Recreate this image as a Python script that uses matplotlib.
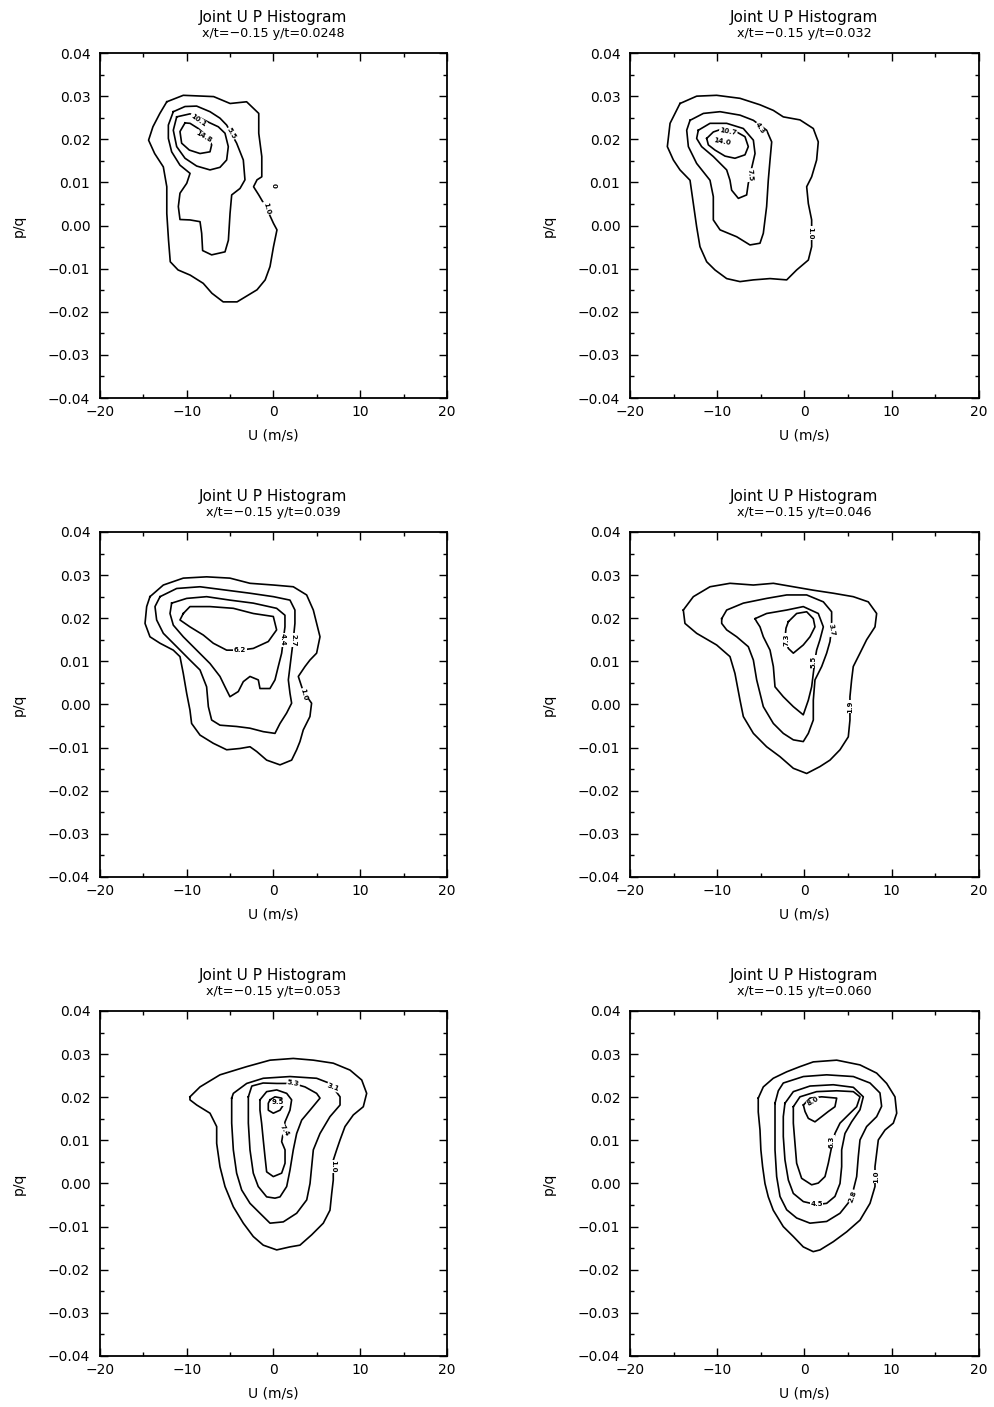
import matplotlib
matplotlib.use('Agg')
from matplotlib import pyplot as plt
from matplotlib.ticker import MultipleLocator, FuncFormatter

# Contour outlines of the joint U / p histograms, points are (U [m/s], p/q)

# x/t=-0.15 y/t=0.0248
yt0248_levels = ['1.0', '5.5', '10.1', '14.8']
yt0248_c1 = [(-12.3, 0.0287), (-10.4, 0.0302), (-6.9, 0.0299), (-5.0, 0.0283), (-3.1, 0.0287),
             (-1.7, 0.0260), (-1.7, 0.0214), (-1.35, 0.0160), (-1.35, 0.0113), (-1.9, 0.0106),
             (-2.3, 0.0090), (-1.7, 0.0071), (-0.8, 0.0040), (0.0, 0.0005), (0.4, -0.0010),
             (0.0, -0.0049), (-0.4, -0.0095), (-0.96, -0.0126), (-1.9, -0.0149), (-4.2, -0.0177),
             (-5.8, -0.0177), (-7.1, -0.0157), (-8.1, -0.0134), (-9.6, -0.0115), (-11.0, -0.0103),
             (-11.9, -0.0084), (-12.1, -0.0034), (-12.3, 0.0028), (-12.3, 0.0090), (-12.7, 0.0136),
             (-13.7, 0.0167), (-14.4, 0.0198), (-13.9, 0.0229), (-13.1, 0.0260)]
yt0248_c2 = [(-11.55, 0.0264), (-10.2, 0.0276), (-8.86, 0.0277), (-7.32, 0.0264), (-6.17, 0.0249),
             (-5.4, 0.0233), (-4.25, 0.0191), (-3.48, 0.0152), (-3.29, 0.0106), (-3.86, 0.0086),
             (-4.82, 0.0071), (-5.01, 0.0028), (-5.2, -0.0034), (-5.59, -0.0061), (-7.13, -0.0068),
             (-8.17, -0.0058), (-8.28, -0.0018), (-8.47, 0.0009), (-9.62, 0.0013), (-10.78, 0.0014),
             (-10.97, 0.0044), (-10.78, 0.0075), (-10.0, 0.0098), (-9.62, 0.0121), (-10.78, 0.0140),
             (-11.74, 0.0171), (-12.12, 0.0202), (-12.12, 0.0233)]
yt0248_c3 = [(-11.16, 0.0252), (-11.55, 0.0221), (-11.16, 0.0183), (-10.2, 0.0156), (-8.86, 0.0138),
             (-7.32, 0.0129), (-6.17, 0.0135), (-5.4, 0.0152), (-5.21, 0.0183), (-5.59, 0.0214),
             (-6.36, 0.0229), (-7.32, 0.0238), (-8.5, 0.0250), (-9.62, 0.0259)]
yt0248_c4 = [(-10.2, 0.0238), (-10.78, 0.0218), (-10.59, 0.0191), (-9.7, 0.0175), (-8.47, 0.0167),
             (-7.32, 0.0171), (-7.13, 0.0187), (-7.51, 0.0205), (-8.67, 0.0225), (-9.62, 0.0237)]
yt0248_labels = ['10.1', '14.8', '5.5', '0', '1.0']
yt0248_label_at = [(-8.67, 0.0245), (-8.0, 0.0206), (-4.82, 0.0214), (0.06, 0.0094), (-0.79, 0.0040)]

# x/t=-0.15 y/t=0.032
yt032_levels = ['1.0', '4.3', '7.5', '10.7']
yt032_c1 = [(-14.27, 0.0283), (-12.36, 0.0300), (-10.07, 0.0302), (-7.39, 0.0295), (-5.10, 0.0280),
            (-3.57, 0.0267), (-2.43, 0.0252), (-0.52, 0.0245), (1.01, 0.0225), (1.58, 0.0194),
            (1.39, 0.0152), (0.82, 0.0113), (0.25, 0.0090), (0.44, 0.0051), (0.82, 0.0013),
            (0.82, -0.0049), (0.44, -0.0080), (-0.9, -0.0103), (-2.04, -0.0126), (-3.95, -0.0123),
            (-5.86, -0.0126), (-7.39, -0.0130), (-8.92, -0.0123), (-10.26, -0.0103), (-11.21, -0.0084),
            (-11.98, -0.0049), (-12.36, -0.0003), (-12.74, 0.0051), (-13.12, 0.0105), (-14.27, 0.0129),
            (-15.03, 0.0152), (-15.72, 0.0183), (-15.41, 0.0237)]
yt032_c2 = [(-13.12, 0.0244), (-11.59, 0.0260), (-9.68, 0.0264), (-7.39, 0.0256), (-5.86, 0.0244),
            (-4.34, 0.0221), (-3.76, 0.0194), (-3.95, 0.0152), (-4.15, 0.0105), (-4.34, 0.0044),
            (-4.72, -0.0018), (-5.10, -0.0041), (-6.25, -0.0045), (-7.77, -0.0026), (-9.68, -0.0010),
            (-10.45, 0.0013), (-10.45, 0.0067), (-10.83, 0.0105), (-12.36, 0.0144), (-13.31, 0.0183),
            (-13.50, 0.0221)]
yt032_c3 = [(-12.17, 0.0221), (-10.83, 0.0237), (-8.92, 0.0237), (-7.01, 0.0225), (-5.86, 0.0198),
            (-5.67, 0.0167), (-6.06, 0.0133), (-6.44, 0.0098), (-6.63, 0.0071), (-7.58, 0.0063),
            (-8.35, 0.0082), (-8.54, 0.0105), (-8.92, 0.0129), (-10.45, 0.0160), (-11.79, 0.0183),
            (-12.36, 0.0202)]
yt032_c4 = [(-11.21, 0.0202), (-10.45, 0.0217), (-9.30, 0.0225), (-7.77, 0.0217), (-6.82, 0.0206),
            (-6.44, 0.0183), (-6.82, 0.0164), (-7.97, 0.0156), (-9.11, 0.0161), (-10.26, 0.0175),
            (-11.02, 0.0187)]
yt032_labels = ['4.3', '10.7', '14.0', '7.5', '1.0']
yt032_label_at = [(-5.1, 0.0225), (-8.73, 0.0219), (-9.49, 0.0194), (-6.25, 0.0117), (0.7, -0.0018)]

# x/t=-0.15 y/t=0.039
yt039_levels = ['1.0', '2.7', '4.4', '6.2']
yt039_c1 = [(-14.24, 0.0250), (-12.70, 0.0277), (-10.40, 0.0293), (-7.71, 0.0296), (-5.02, 0.0293),
            (-2.71, 0.0281), (0.0, 0.0277), (2.28, 0.0273), (3.82, 0.0254), (4.59, 0.0219),
            (5.36, 0.0157), (4.97, 0.0119), (4.20, 0.0103), (3.63, 0.0088), (2.86, 0.0065),
            (3.43, 0.0030), (4.39, 0.0003), (4.20, -0.0028), (3.43, -0.0059), (3.05, -0.0086),
            (2.67, -0.0105), (2.09, -0.0129), (0.75, -0.0140), (-0.79, -0.0129), (-1.94, -0.0109),
            (-2.71, -0.0098), (-3.86, -0.0102), (-5.40, -0.0105), (-6.94, -0.0090), (-8.47, -0.0071),
            (-9.44, -0.0044), (-9.63, -0.0013), (-10.01, 0.0026), (-10.40, 0.0072), (-10.78, 0.0111),
            (-11.55, 0.0126), (-13.08, 0.0142), (-14.24, 0.0157), (-14.81, 0.0188), (-14.62, 0.0227)]
yt039_c2 = [(-13.08, 0.0250), (-11.16, 0.0269), (-8.47, 0.0273), (-5.40, 0.0265), (-2.71, 0.0258),
            (0.0, 0.0250), (1.90, 0.0242), (2.47, 0.0219), (2.47, 0.0188), (2.28, 0.0150),
            (2.09, 0.0119), (1.90, 0.0088), (1.71, 0.0057), (1.90, 0.0026), (2.09, 0.0003),
            (1.51, -0.0020), (0.75, -0.0044), (0.17, -0.0067), (-1.18, -0.0063), (-2.71, -0.0055),
            (-4.25, -0.0051), (-6.17, -0.0048), (-7.13, -0.0036), (-7.51, -0.0005), (-7.71, 0.0041),
            (-8.47, 0.0080), (-9.63, 0.0103), (-11.16, 0.0134), (-12.70, 0.0165), (-13.47, 0.0196),
            (-13.66, 0.0227)]
yt039_c3 = [(-11.74, 0.0235), (-10.01, 0.0246), (-7.71, 0.0250), (-5.02, 0.0242), (-2.33, 0.0235),
            (0.36, 0.0223), (1.32, 0.0207), (1.32, 0.0180), (1.13, 0.0150), (0.94, 0.0119),
            (0.55, 0.0088), (0.17, 0.0057), (-0.41, 0.0037), (-1.56, 0.0037), (-1.75, 0.0057),
            (-2.71, 0.0065), (-3.48, 0.0053), (-4.06, 0.0030), (-5.02, 0.0018), (-5.59, 0.0041),
            (-6.17, 0.0065), (-7.32, 0.0095), (-8.86, 0.0126), (-10.40, 0.0157), (-11.55, 0.0184),
            (-11.93, 0.0211)]
yt039_c4 = [(-10.40, 0.0211), (-9.63, 0.0227), (-7.32, 0.0227), (-4.63, 0.0223), (-2.33, 0.0211),
            (-0.02, 0.0204), (0.36, 0.0173), (-0.60, 0.0146), (-2.33, 0.0130), (-3.86, 0.0126),
            (-5.40, 0.0126), (-6.94, 0.0142), (-8.09, 0.0161), (-9.63, 0.0180), (-10.78, 0.0196)]
yt039_labels = ['6.2', '4.4', '2.7', '1.0']
yt039_label_at = [(-3.86, 0.0126), (1.05, 0.0150), (2.28, 0.0150), (3.43, 0.0022)]

# x/t=-0.15 y/t=0.046
yt046_levels = ['1.9', '3.7', '5.5', '7.3']
yt046_c1 = [(-13.89, 0.0219), (-12.74, 0.0250), (-10.83, 0.0273), (-8.54, 0.0281), (-5.86, 0.0277),
            (-3.57, 0.0281), (-1.28, 0.0273), (1.01, 0.0265), (3.30, 0.0258), (5.59, 0.0250),
            (7.31, 0.0238), (8.27, 0.0211), (8.08, 0.0180), (7.12, 0.0150), (6.36, 0.0119),
            (5.59, 0.0088), (5.40, 0.0057), (5.21, 0.0018), (5.21, -0.0036), (5.02, -0.0075),
            (4.07, -0.0105), (2.92, -0.0129), (1.77, -0.0144), (0.25, -0.0160), (-1.28, -0.0148),
            (-2.81, -0.0121), (-4.34, -0.0098), (-5.86, -0.0067), (-7.01, -0.0028), (-7.39, 0.0010),
            (-7.97, 0.0072), (-8.54, 0.0111), (-10.07, 0.0138), (-12.36, 0.0165), (-13.70, 0.0188)]
yt046_c2 = [(-9.49, 0.0199), (-8.92, 0.0219), (-7.01, 0.0235), (-4.34, 0.0246), (-2.04, 0.0254),
            (0.25, 0.0254), (2.16, 0.0238), (3.11, 0.0215), (3.11, 0.0180), (2.92, 0.0146),
            (2.54, 0.0119), (1.97, 0.0088), (1.20, 0.0057), (1.01, 0.0010), (1.01, -0.0036),
            (0.44, -0.0067), (-0.14, -0.0086), (-1.28, -0.0082), (-2.43, -0.0067), (-3.57, -0.0044),
            (-4.72, -0.0005), (-5.10, 0.0026), (-5.48, 0.0057), (-5.86, 0.0103), (-6.44, 0.0134),
            (-7.77, 0.0157), (-8.92, 0.0173), (-9.49, 0.0188)]
yt046_c3 = [(-5.67, 0.0199), (-4.34, 0.0211), (-2.04, 0.0219), (-0.14, 0.0227), (1.58, 0.0211),
            (2.16, 0.0180), (1.77, 0.0150), (1.39, 0.0126), (1.20, 0.0103), (1.01, 0.0072),
            (0.82, 0.0041), (0.44, 0.0010), (-0.14, -0.0024), (-1.28, -0.0005), (-2.43, 0.0018),
            (-3.38, 0.0041), (-3.57, 0.0088), (-3.95, 0.0126), (-4.72, 0.0157), (-5.10, 0.0180),
            (-5.48, 0.0192)]
yt046_c4 = [(-1.85, 0.0192), (-0.90, 0.0211), (0.25, 0.0215), (1.01, 0.0199), (1.20, 0.0180),
            (0.63, 0.0157), (-0.14, 0.0138), (-1.28, 0.0119), (-1.85, 0.0130), (-2.23, 0.0154),
            (-2.12, 0.0177)]
yt046_labels = ['7.3', '3.7', '5.5', '1.9']
yt046_label_at = [(-2.12, 0.0150), (3.11, 0.0173), (1.05, 0.0099), (5.21, -0.0005)]

# x/t=-0.15 y/t=0.053
yt053_levels = ['1.0', '3.1', '5.3', '7.4', '9.5']
yt053_c1 = [(-9.63, 0.0201), (-8.47, 0.0224), (-6.17, 0.0252), (-3.09, 0.0271), (-0.40, 0.0286),
            (2.28, 0.0290), (4.59, 0.0286), (6.89, 0.0279), (8.82, 0.0263), (10.17, 0.0240),
            (10.74, 0.0209), (10.35, 0.0178), (9.20, 0.0159), (8.24, 0.0132), (7.67, 0.0101),
            (7.28, 0.0078), (6.89, 0.0054), (6.89, 0.0008), (6.71, -0.0023), (6.51, -0.0062),
            (5.74, -0.0092), (4.40, -0.0119), (3.05, -0.0143), (1.90, -0.0147), (0.37, -0.0154),
            (-1.18, -0.0143), (-2.33, -0.0123), (-3.48, -0.0092), (-4.63, -0.0054), (-5.59, -0.0007),
            (-6.17, 0.0039), (-6.55, 0.0093), (-6.55, 0.0132), (-7.32, 0.0163), (-8.85, 0.0182),
            (-9.63, 0.0194)]
yt053_c2 = [(-4.82, 0.0198), (-4.63, 0.0209), (-3.09, 0.0232), (-1.18, 0.0244), (1.90, 0.0248),
            (4.97, 0.0244), (6.51, 0.0232), (7.67, 0.0201), (7.67, 0.0182), (6.51, 0.0155),
            (5.36, 0.0116), (4.59, 0.0078), (4.40, 0.0039), (4.21, 0.0000), (3.83, -0.0038),
            (2.67, -0.0069), (1.13, -0.0089), (-0.40, -0.0092), (-1.56, -0.0069), (-2.71, -0.0046),
            (-3.67, -0.0015), (-4.25, 0.0024), (-4.63, 0.0078), (-4.82, 0.0140)]
yt053_c3 = [(-2.90, 0.0201), (-2.5, 0.0226), (-1.2, 0.0233), (0.37, 0.0232), (2.28, 0.0232),
            (3.63, 0.0224), (4.97, 0.0209), (5.36, 0.0198), (4.21, 0.0170), (3.25, 0.0147),
            (2.67, 0.0116), (2.28, 0.0078), (1.90, 0.0031), (1.52, -0.0007), (0.75, -0.0031),
            (0.17, -0.0034), (-0.79, -0.0031), (-1.76, -0.0007), (-2.33, 0.0024), (-2.71, 0.0078),
            (-2.90, 0.0140)]
yt053_c4 = [(-1.56, 0.0194), (-0.79, 0.0213), (0.37, 0.0217), (1.52, 0.0209), (2.09, 0.0194),
            (1.90, 0.0170), (1.33, 0.0143), (0.94, 0.0097), (1.33, 0.0078), (1.33, 0.0047),
            (0.94, 0.0024), (-0.02, 0.0016), (-0.79, 0.0027), (-0.98, 0.0062), (-1.18, 0.0101),
            (-1.37, 0.0140), (-1.56, 0.0170)]
yt053_c5 = [(-0.40, 0.0194), (0.17, 0.0201), (0.94, 0.0198), (1.13, 0.0182), (0.75, 0.0170),
            (-0.02, 0.0163), (-0.60, 0.0170), (-0.60, 0.0186)]
yt053_labels = ['9.5', '7.4', '5.3', '3.1', '1.0']
yt053_label_at = [(0.55, 0.0188), (1.2, 0.0124), (2.28, 0.0232), (6.89, 0.0223), (6.89, 0.0039)]

# x/t=-0.15 y/t=0.060
yt060_levels = ['1.0', '2.8', '4.5', '6.3', '8.0']
yt060_c1 = [(-5.3, 0.0198), (-4.72, 0.0224), (-3.58, 0.0244), (-2.04, 0.0259), (-0.52, 0.0271),
            (1.01, 0.0282), (3.69, 0.0286), (6.36, 0.0275), (8.27, 0.0256), (9.42, 0.0232),
            (10.37, 0.0201), (10.57, 0.0163), (10.18, 0.0140), (9.23, 0.0124), (8.46, 0.0101),
            (8.27, 0.0070), (8.08, 0.0039), (8.08, -0.0007), (7.51, -0.0046), (6.36, -0.0085),
            (4.84, -0.0112), (3.30, -0.0135), (1.78, -0.0154), (1.0, -0.0158), (-0.14, -0.0147),
            (-1.28, -0.0123), (-2.43, -0.0100), (-3.58, -0.0062), (-4.15, -0.0031), (-4.53, 0.0000),
            (-4.8, 0.0039), (-5.0, 0.0078), (-5.1, 0.0124), (-5.3, 0.0166)]
yt060_c2 = [(-3.38, 0.0186), (-3.0, 0.0215), (-2.43, 0.0233), (-0.13, 0.0248), (2.54, 0.0252),
            (5.60, 0.0248), (7.51, 0.0233), (8.65, 0.0210), (8.84, 0.0179), (8.27, 0.0155),
            (7.12, 0.0132), (6.36, 0.0101), (6.17, 0.0063), (5.98, 0.0016), (5.60, -0.0015),
            (5.02, -0.0045), (4.07, -0.0069), (2.54, -0.0088), (0.63, -0.0092), (-0.90, -0.0080),
            (-2.04, -0.0061), (-2.81, -0.0030), (-3.19, 0.0016), (-3.38, 0.0078), (-3.38, 0.0140)]
yt060_c3 = [(-2.24, 0.0186), (-1.28, 0.0213), (0.63, 0.0226), (3.30, 0.0229), (5.60, 0.0223),
            (6.74, 0.0201), (6.36, 0.0171), (5.40, 0.0143), (4.64, 0.0116), (4.26, 0.0078),
            (4.26, 0.0039), (4.07, 0.0000), (3.49, -0.0030), (2.54, -0.0046), (1.39, -0.0049),
            (-0.13, -0.0042), (-1.28, -0.0023), (-1.85, 0.0008), (-2.24, 0.0055), (-2.43, 0.0109),
            (-2.43, 0.0155)]
yt060_c4 = [(-1.28, 0.0178), (-0.52, 0.0201), (1.39, 0.0213), (3.69, 0.0215), (5.60, 0.0213),
            (6.36, 0.0201), (5.98, 0.0178), (5.02, 0.0159), (4.07, 0.0140), (3.49, 0.0116),
            (3.11, 0.0085), (2.73, 0.0047), (2.35, 0.0016), (1.58, 0.0001), (0.82, -0.0003),
            (-0.33, 0.0012), (-0.90, 0.0047), (-1.09, 0.0093), (-1.28, 0.0140)]
yt060_c5 = [(-0.13, 0.0182), (0.63, 0.0198), (1.97, 0.0201), (3.69, 0.0198), (3.49, 0.0178),
            (2.73, 0.0167), (1.97, 0.0155), (1.20, 0.0143), (0.44, 0.0151), (0.06, 0.0167)]
yt060_labels = ['8.0', '6.3', '4.5', '2.8', '1.0']
yt060_label_at = [(1.01, 0.0190), (3.11, 0.0097), (1.39, -0.0047), (5.50, -0.0030), (8.27, 0.0016)]

subtitles = ['x/t=\u22120.15 y/t=0.0248', 'x/t=\u22120.15 y/t=0.032',
             'x/t=\u22120.15 y/t=0.039', 'x/t=\u22120.15 y/t=0.046',
             'x/t=\u22120.15 y/t=0.053', 'x/t=\u22120.15 y/t=0.060']

panels = [
    ([yt0248_c1, yt0248_c2, yt0248_c3, yt0248_c4], yt0248_labels, yt0248_label_at),
    ([yt032_c1, yt032_c2, yt032_c3, yt032_c4], yt032_labels, yt032_label_at),
    ([yt039_c1, yt039_c2, yt039_c3, yt039_c4], yt039_labels, yt039_label_at),
    ([yt046_c1, yt046_c2, yt046_c3, yt046_c4], yt046_labels, yt046_label_at),
    ([yt053_c1, yt053_c2, yt053_c3, yt053_c4, yt053_c5], yt053_labels, yt053_label_at),
    ([yt060_c1, yt060_c2, yt060_c3, yt060_c4, yt060_c5], yt060_labels, yt060_label_at),
]

# rotation of the little level labels along the lines
label_rot = [
    [-35, -30, -60, -90, -75],
    [-55, -10, -10, -85, -90],
    [0, -90, -90, -75],
    [90, -80, 90, 90],
    [0, -60, -10, -20, -90],
    [30, 90, 0, 70, 90],
]


def pq_fmt(v, pos):
    s = '%.2f' % v
    if s == '-0.00':
        s = '0.00'
    return s.replace('-', '\u2212')


def main():
    plt.rcParams['font.family'] = ['DejaVu Sans']
    fig = plt.figure(figsize=(9.94, 14.07), dpi=100)

    lefts = [0.1006, 0.6338]
    widths = [0.3491, 0.3511]
    bottoms = [0.7171, 0.3767, 0.03625]
    height = 0.2452

    for i, (curves, labels, label_at) in enumerate(panels):
        row, col = divmod(i, 2)
        ax = fig.add_axes([lefts[col], bottoms[row], widths[col], height])

        for c in curves:
            u = [p[0] for p in c] + [c[0][0]]
            pq = [p[1] for p in c] + [c[0][1]]
            ax.plot(u, pq, color='black', lw=1.2, solid_joinstyle='round')

        for txt, (lu, lp), rot in zip(labels, label_at, label_rot[i]):
            ax.text(lu, lp, txt, fontsize=5, fontweight='bold', ha='center', va='center',
                    rotation=rot, rotation_mode='anchor',
                    bbox=dict(facecolor='white', edgecolor='none', pad=0.4))

        ax.set_xlim(-20, 20)
        ax.set_ylim(-0.04, 0.04)
        ax.xaxis.set_major_locator(MultipleLocator(10))
        ax.xaxis.set_minor_locator(MultipleLocator(5))
        ax.yaxis.set_major_locator(MultipleLocator(0.01))
        ax.yaxis.set_minor_locator(MultipleLocator(0.005))
        ax.yaxis.set_major_formatter(FuncFormatter(pq_fmt))
        ax.tick_params(which='both', direction='in', top=True, right=True, width=1.0)
        ax.tick_params(which='major', length=6, labelsize=10, pad=7)
        ax.tick_params(which='minor', length=3)
        ax.tick_params(axis='x', which='major', pad=5)
        for sp in ax.spines.values():
            sp.set_linewidth(1.3)

        ax.set_xlabel('U (m/s)', fontsize=10, labelpad=7)
        ax.set_ylabel('p/q', fontsize=10, labelpad=16)
        ax.annotate('Joint U P Histogram', xy=(0.5, 1.0), xycoords='axes fraction',
                    xytext=(0, 22), textcoords='offset points', ha='center', va='baseline',
                    fontsize=11)
        ax.annotate(subtitles[i], xy=(0.5, 1.0), xycoords='axes fraction',
                    xytext=(0, 11.5), textcoords='offset points', ha='center', va='baseline',
                    fontsize=9.2)

    fig.savefig('out.png', dpi=100, facecolor='white')


if __name__ == '__main__':
    main()
